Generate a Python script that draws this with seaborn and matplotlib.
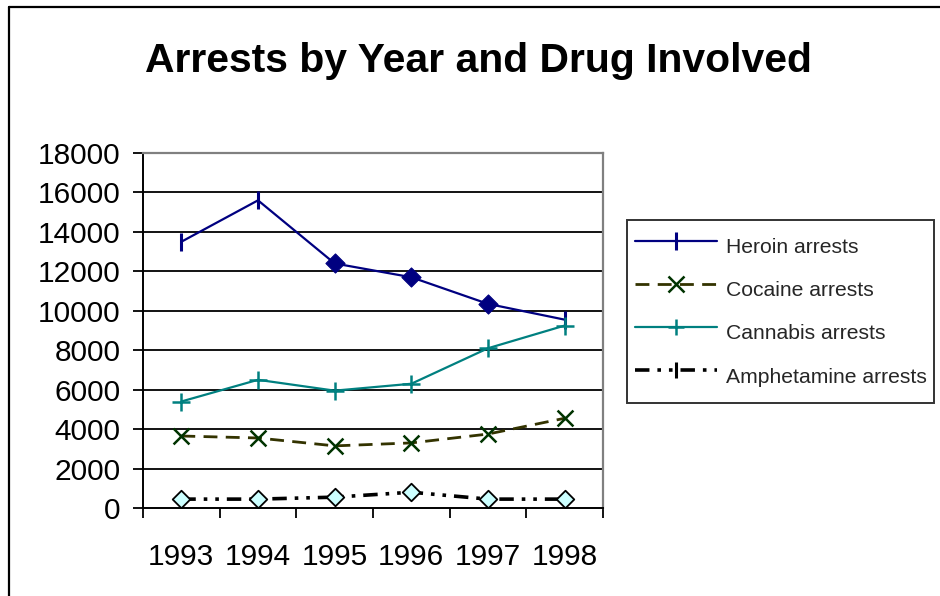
import matplotlib
matplotlib.use("Agg")
import matplotlib.pyplot as plt
from matplotlib.lines import Line2D
import numpy as np
import pandas as pd
import seaborn as sns

# Yearly arrest counts per drug
years = ["1993", "1994", "1995", "1996", "1997", "1998"]
heroin = [13500, 15600, 12400, 11700, 10350, 9550]
cocaine = [3650, 3550, 3150, 3300, 3750, 4550]
cannabis = [5400, 6500, 5950, 6300, 8100, 9250]
amphetamine = [450, 450, 550, 800, 450, 450]
series_names = ["Heroin arrests", "Cocaine arrests", "Cannabis arrests", "Amphetamine arrests"]
y_ticks = [0, 2000, 4000, 6000, 8000, 10000, 12000, 14000, 16000, 18000]

sns.set_theme(style="white")
plt.rcParams["font.family"] = ["Liberation Sans", "DejaVu Sans"]

fig = plt.figure(figsize=(9.4, 5.96), dpi=100)
ax = fig.add_axes([143 / 940, 1 - 508 / 596, (603 - 143) / 940, (508 - 153) / 596])

x = np.arange(len(years))
df = pd.DataFrame({"x": x, "Heroin": heroin, "Cocaine": cocaine,
                   "Cannabis": cannabis, "Amphetamine": amphetamine})

navy = "#000080"
teal = "#008080"
olive = "#333300"
dkgreen = "#003300"

# grid lines behind the series
for v in y_ticks[1:-1]:
    ax.axhline(v, color="black", lw=1.3, zorder=1)

# Heroin
sns.lineplot(data=df, x="x", y="Heroin", ax=ax, color=navy, lw=1.6, zorder=3)
sns.scatterplot(x=x[[0, 1, 5]], y=np.array(heroin)[[0, 1, 5]], ax=ax, marker="|",
                s=180, color=navy, linewidth=2.2, zorder=4)
sns.scatterplot(x=x[2:5], y=np.array(heroin)[2:5], ax=ax, marker="D", s=95,
                color=navy, edgecolor=navy, zorder=4)

# Cocaine
sns.lineplot(data=df, x="x", y="Cocaine", ax=ax, color=olive, lw=2.0, zorder=3)
ax.lines[-1].set_dashes((5, 3))
sns.scatterplot(data=df, x="x", y="Cocaine", ax=ax, marker="x", s=130,
                color=dkgreen, linewidth=1.8, zorder=4)

# Cannabis
sns.lineplot(data=df, x="x", y="Cannabis", ax=ax, color=teal, lw=1.6, zorder=3)
sns.scatterplot(data=df, x="x", y="Cannabis", ax=ax, marker="+", s=150,
                color=teal, linewidth=1.8, zorder=4)

# Amphetamine
sns.lineplot(data=df, x="x", y="Amphetamine", ax=ax, color="black", lw=2.6, zorder=3)
ax.lines[-1].set_dashes((4, 2.2, 1, 2.2, 1, 2.2))
sns.scatterplot(data=df, x="x", y="Amphetamine", ax=ax, marker="D", s=80,
                color="#CCFFFF", edgecolor="black", linewidth=1.3, zorder=4)

ax.set_xlim(-0.5, len(years) - 0.5)
ax.set_ylim(0, 18000)
ax.set_xlabel("")
ax.set_ylabel("")

ax.set_yticks(y_ticks)
ax.set_yticklabels([str(v) for v in y_ticks])
ax.set_xticks(np.arange(-0.5, len(years), 1.0))
ax.set_xticklabels([""] * (len(years) + 1))
ax.set_xticks(x, minor=True)
ax.set_xticklabels(years, minor=True)
ax.tick_params(axis="y", which="major", direction="out", length=7, width=1.3,
               colors="black", labelsize=21.5, pad=9, left=True)
ax.tick_params(axis="x", which="major", direction="out", length=7, width=1.3,
               colors="black", bottom=True)
ax.tick_params(axis="x", which="minor", length=0, labelsize=21.5, pad=25,
               labelcolor="black")

for side in ["left", "bottom"]:
    ax.spines[side].set_color("black")
    ax.spines[side].set_linewidth(1.4)
for side in ["top", "right"]:
    ax.spines[side].set_color("#808080")
    ax.spines[side].set_linewidth(1.6)
    ax.spines[side].set_visible(True)

fig.text(478 / 940, 1 - 61 / 596, "Arrests by Year and Drug Involved",
         ha="center", va="center", fontsize=29.4, fontweight="bold", color="black")

handles = [
    Line2D([], [], color=navy, lw=1.6, marker="|", markersize=13, markeredgewidth=2.2),
    Line2D([], [], color=olive, lw=2.0, dashes=(5, 3), marker="x", markersize=11,
           markeredgecolor=dkgreen, markeredgewidth=1.8),
    Line2D([], [], color=teal, lw=1.6, marker="+", markersize=12, markeredgewidth=1.8),
    Line2D([], [], color="black", lw=2.6, dashes=(4, 2.2, 1, 2.2, 1, 2.2), marker="|",
           markersize=12, markeredgewidth=2.2),
]
leg = fig.legend(handles, series_names, loc="upper left",
                 bbox_to_anchor=(627 / 940, 1 - 220 / 596),
                 frameon=True, fancybox=False, shadow=False,
                 prop={"family": "Liberation Sans", "size": 15.2},
                 handlelength=3.9, handleheight=2.45, handletextpad=0.43,
                 labelspacing=0.2, borderpad=0.36, borderaxespad=0)
leg.get_frame().set_edgecolor("black")
leg.get_frame().set_linewidth(1.4)

# outer chart frame
fig.add_artist(Line2D([9 / 940, 9 / 940], [-0.01, 1 - 7 / 596], color="black",
                      lw=1.6, transform=fig.transFigure))
fig.add_artist(Line2D([9 / 940, 1.01], [1 - 7 / 596, 1 - 7 / 596], color="black",
                      lw=1.6, transform=fig.transFigure))

fig.savefig("out.png", dpi=100)
